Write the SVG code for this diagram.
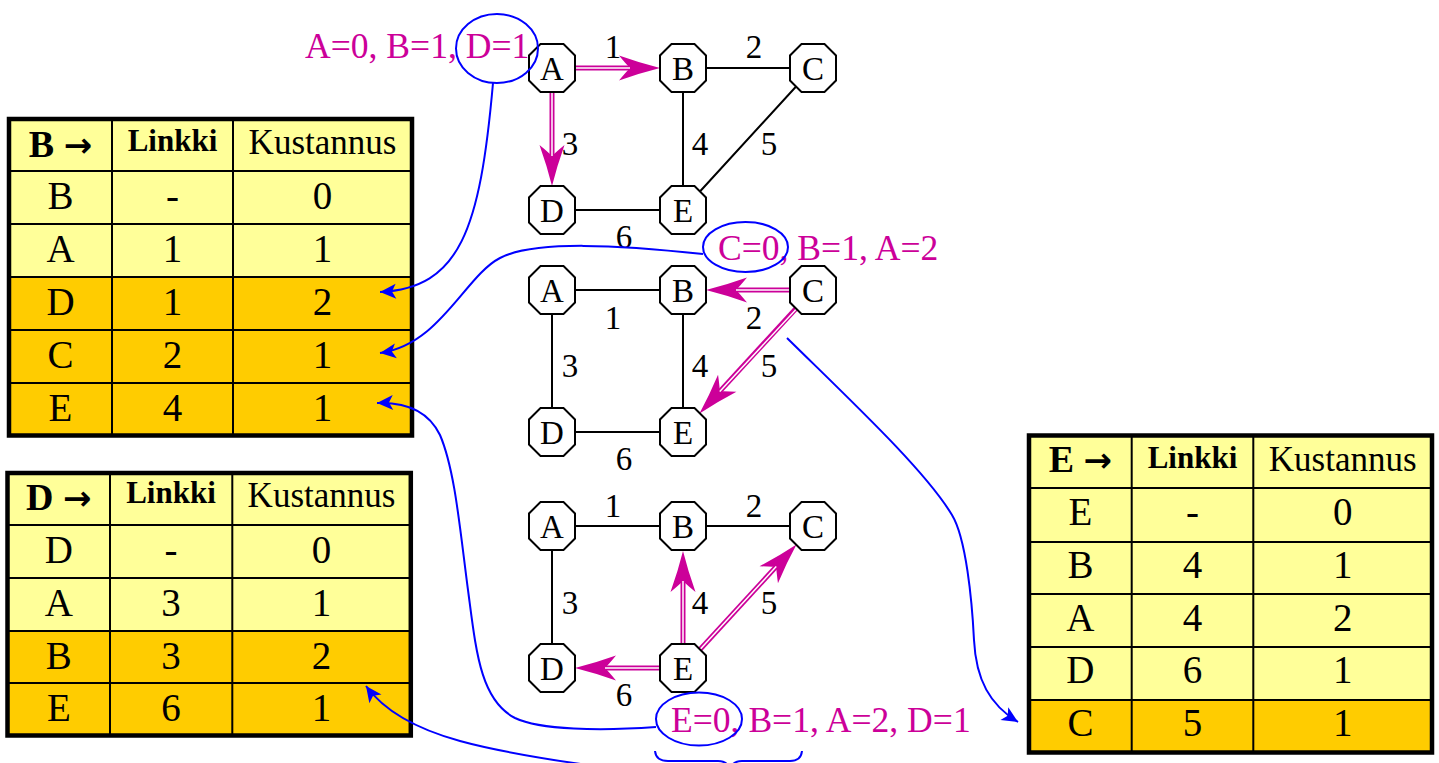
<svg xmlns="http://www.w3.org/2000/svg" xmlns:xlink="http://www.w3.org/1999/xlink" width="1439" height="763" viewBox="0 0 1439 763">
<style>
text { font-family: "Liberation Serif", "Times New Roman", serif; }
.cell { font-size: 39px; text-anchor: middle; fill: #000; }
.hk { font-size: 35px; text-anchor: middle; fill: #000; }
.hb { font-size: 31px; font-weight: bold; text-anchor: middle; fill: #000; }
.ht { font-size: 38px; font-weight: bold; text-anchor: middle; fill: #000; }
.ar { font-family: "DejaVu Sans", sans-serif; font-size: 34px; font-weight: bold; }
.lt { fill: #FFFF99; }
.dk { fill: #FFCC00; }
.grid { stroke: #000; stroke-width: 2; fill: none; }
.frame { fill: none; stroke: #000; stroke-width: 4.5; }
.edge { stroke: #000; stroke-width: 2; fill: none; }
.nl { font-size: 33px; text-anchor: middle; fill: #000; }
.el { font-size: 33px; text-anchor: middle; fill: #000; }
.mt { font-size: 35.6px; fill: #CC0099; }
.blue { fill: none; stroke: #0000FF; stroke-width: 2; }
.mg { stroke: #CC0099; stroke-width: 5; fill: none; }
.mw { stroke: #FFFFFF; stroke-width: 1.5; fill: none; }
</style>
<defs>
<polygon id="oct" points="-11.5,-24 11.5,-24 23,-12.5 23,12.5 11.5,24 -11.5,24 -23,12.5 -23,-12.5" fill="#FFFFFF" stroke="#000" stroke-width="2"/>
<marker id="mh" markerUnits="userSpaceOnUse" orient="auto" refX="0" refY="0" markerWidth="1" markerHeight="1" overflow="visible">
<path d="M30,0 Q10,-5 -11,-12.5 Q-4,-4 0,0 Q-4,4 -11,12.5 Q10,5 30,0 Z" fill="#CC0099"/>
</marker>
<marker id="bh" markerUnits="userSpaceOnUse" orient="auto" refX="0" refY="0" markerWidth="1" markerHeight="1" overflow="visible">
<path d="M0,0 L-16,-7.5 L-12,0 L-16,7.5 Z" fill="#0000FF"/>
</marker>
</defs>

<!-- Table B -->
<g id="table-B">
<rect class="lt" x="9" y="119" width="403" height="158"/>
<rect class="dk" x="9" y="277" width="403" height="159"/>
<path class="grid" d="M9,171H412M9,224H412M9,277H412M9,330H412M9,383H412M112,119V436M233,119V436"/>
<rect class="frame" x="9" y="119" width="403" height="316.5"/>
<text class="ht" x="60.5" y="157">B <tspan class="ar">→</tspan></text>
<text class="hb" x="172.5" y="151">Linkki</text>
<text class="hk" x="322.5" y="154">Kustannus</text>
<text class="cell" x="60.5" y="209">B</text><text class="cell" x="172.5" y="209">-</text><text class="cell" x="322.5" y="209">0</text>
<text class="cell" x="60.5" y="262">A</text><text class="cell" x="172.5" y="262">1</text><text class="cell" x="322.5" y="262">1</text>
<text class="cell" x="60.5" y="315">D</text><text class="cell" x="172.5" y="315">1</text><text class="cell" x="322.5" y="315">2</text>
<text class="cell" x="60.5" y="368">C</text><text class="cell" x="172.5" y="368">2</text><text class="cell" x="322.5" y="368">1</text>
<text class="cell" x="60.5" y="421">E</text><text class="cell" x="172.5" y="421">4</text><text class="cell" x="322.5" y="421">1</text>
</g>

<!-- Table D -->
<g id="table-D">
<rect class="lt" x="7.5" y="473" width="403.3" height="158"/>
<rect class="dk" x="7.5" y="631" width="403.3" height="104.5"/>
<path class="grid" d="M7.5,525H410.8M7.5,578H410.8M7.5,631H410.8M7.5,683H410.8M110,473V735.5M232.3,473V735.5"/>
<rect class="frame" x="7.5" y="473" width="403.3" height="262.5"/>
<text class="ht" x="58.8" y="510">D <tspan class="ar">→</tspan></text>
<text class="hb" x="171" y="503">Linkki</text>
<text class="hk" x="321.5" y="507">Kustannus</text>
<text class="cell" x="58.8" y="563">D</text><text class="cell" x="171" y="563">-</text><text class="cell" x="321.5" y="563">0</text>
<text class="cell" x="58.8" y="616">A</text><text class="cell" x="171" y="616">3</text><text class="cell" x="321.5" y="616">1</text>
<text class="cell" x="58.8" y="669">B</text><text class="cell" x="171" y="669">3</text><text class="cell" x="321.5" y="669">2</text>
<text class="cell" x="58.8" y="721">E</text><text class="cell" x="171" y="721">6</text><text class="cell" x="321.5" y="721">1</text>
</g>

<!-- Table E -->
<g id="table-E">
<rect class="lt" x="1029" y="435.5" width="403" height="264.5"/>
<rect class="dk" x="1029" y="700" width="403" height="52.5"/>
<path class="grid" d="M1029,488H1432M1029,542H1432M1029,594H1432M1029,647H1432M1029,700H1432M1131.7,435.5V752.5M1253.3,435.5V752.5"/>
<rect class="frame" x="1029" y="435.5" width="403" height="317"/>
<text class="ht" x="1080.4" y="472">E <tspan class="ar">→</tspan></text>
<text class="hb" x="1192.5" y="468">Linkki</text>
<text class="hk" x="1342.7" y="471">Kustannus</text>
<text class="cell" x="1080.4" y="525">E</text><text class="cell" x="1192.5" y="525">-</text><text class="cell" x="1342.7" y="525">0</text>
<text class="cell" x="1080.4" y="578">B</text><text class="cell" x="1192.5" y="578">4</text><text class="cell" x="1342.7" y="578">1</text>
<text class="cell" x="1080.4" y="631">A</text><text class="cell" x="1192.5" y="631">4</text><text class="cell" x="1342.7" y="631">2</text>
<text class="cell" x="1080.4" y="683">D</text><text class="cell" x="1192.5" y="683">6</text><text class="cell" x="1342.7" y="683">1</text>
<text class="cell" x="1080.4" y="736">C</text><text class="cell" x="1192.5" y="736">5</text><text class="cell" x="1342.7" y="736">1</text>
</g>

<!-- Graph edges and arrows -->
<g id="connectors">
<!-- top graph -->
<path class="edge" d="M683,68H813M683,68V210M813,68L683,210M552,210H683"/>
<path class="mg" d="M552,68H630" marker-end="url(#mh)"/><path class="mw" d="M560,68H630"/>
<path class="mg" d="M552,68V156" marker-end="url(#mh)"/><path class="mw" d="M552,76V156"/>
<!-- middle graph -->
<path class="edge" d="M552,290H683M552,290V432M683,290V432M552,432H683"/>
<path class="mg" d="M813,290H736" marker-end="url(#mh)"/><path class="mw" d="M805,290H736"/>
<path class="mg" d="M813,290L719.8,391.4" marker-end="url(#mh)"/><path class="mw" d="M808,296.5L719.8,391.4"/>
<!-- bottom graph -->
<path class="edge" d="M552,526H813M552,526V668"/>
<path class="mg" d="M683,668V581" marker-end="url(#mh)"/><path class="mw" d="M683,660V581"/>
<path class="mg" d="M683,668L776.2,566.6" marker-end="url(#mh)"/><path class="mw" d="M688,662.5L776.2,566.6"/>
<path class="mg" d="M683,668H605" marker-end="url(#mh)"/><path class="mw" d="M675,668H605"/>
</g>

<!-- Edge labels -->
<g id="edge-labels">
<text class="el" x="613" y="58">1</text><text class="el" x="754" y="58">2</text><text class="el" x="570" y="155">3</text><text class="el" x="700" y="155">4</text><text class="el" x="769" y="155">5</text><text class="el" x="624" y="248">6</text>
<text class="el" x="613" y="329">1</text><text class="el" x="754" y="329">2</text><text class="el" x="570" y="377">3</text><text class="el" x="700" y="377">4</text><text class="el" x="769" y="377">5</text><text class="el" x="624" y="470">6</text>
<text class="el" x="613" y="517">1</text><text class="el" x="754" y="517">2</text><text class="el" x="570" y="614">3</text><text class="el" x="700" y="614">4</text><text class="el" x="769" y="614">5</text><text class="el" x="624" y="706">6</text>
</g>

<!-- Nodes: top graph -->
<g id="n1-A"><use xlink:href="#oct" x="552" y="68"/><text class="nl" x="552" y="80">A</text></g>
<g id="n1-B"><use xlink:href="#oct" x="683" y="68"/><text class="nl" x="683" y="80">B</text></g>
<g id="n1-C"><use xlink:href="#oct" x="813" y="68"/><text class="nl" x="813" y="80">C</text></g>
<g id="n1-D"><use xlink:href="#oct" x="552" y="210"/><text class="nl" x="552" y="222">D</text></g>
<g id="n1-E"><use xlink:href="#oct" x="683" y="210"/><text class="nl" x="683" y="222">E</text></g>
<!-- Nodes: middle graph -->
<g id="n2-A"><use xlink:href="#oct" x="552" y="290"/><text class="nl" x="552" y="302">A</text></g>
<g id="n2-B"><use xlink:href="#oct" x="683" y="290"/><text class="nl" x="683" y="302">B</text></g>
<g id="n2-C"><use xlink:href="#oct" x="813" y="290"/><text class="nl" x="813" y="302">C</text></g>
<g id="n2-D"><use xlink:href="#oct" x="552" y="432"/><text class="nl" x="552" y="444">D</text></g>
<g id="n2-E"><use xlink:href="#oct" x="683" y="432"/><text class="nl" x="683" y="444">E</text></g>
<!-- Nodes: bottom graph -->
<g id="n3-A"><use xlink:href="#oct" x="552" y="526"/><text class="nl" x="552" y="538">A</text></g>
<g id="n3-B"><use xlink:href="#oct" x="683" y="526"/><text class="nl" x="683" y="538">B</text></g>
<g id="n3-C"><use xlink:href="#oct" x="813" y="526"/><text class="nl" x="813" y="538">C</text></g>
<g id="n3-D"><use xlink:href="#oct" x="552" y="668"/><text class="nl" x="552" y="680">D</text></g>
<g id="n3-E"><use xlink:href="#oct" x="683" y="668"/><text class="nl" x="683" y="680">E</text></g>

<!-- Magenta vectors -->
<g id="vectors">
<text class="mt" x="305" y="58">A=0, B=1, D=1</text>
<text class="mt" x="718" y="260">C=0, B=1, A=2</text>
<text class="mt" x="671" y="732">E=0, B=1, A=2, D=1</text>
</g>

<!-- Blue annotations -->
<g id="annotations">
<ellipse class="blue" cx="497" cy="48.5" rx="41" ry="34.5"/>
<ellipse class="blue" cx="745.5" cy="247" rx="42.5" ry="25"/>
<ellipse class="blue" cx="699" cy="719" rx="43" ry="26.5"/>
<path class="blue" d="M493,83 C480,230 460,288 380,292" marker-end="url(#bh)"/>
<path class="blue" d="M703,254 C620,245 535,240 500,258 C465,276 440,345 380,353" marker-end="url(#bh)"/>
<path class="blue" d="M656,727 C600,731 540,730 515,718 C480,700 476,650 468,590 C460,530 455,470 440,435 C428,410 405,402 377,403" marker-end="url(#bh)"/>
<path class="blue" d="M787,338 C850,400 925,470 952,515 C966,538 972,600 974,640 C976,680 990,705 1018,722" marker-end="url(#bh)"/>
<path class="blue" d="M640,772 C560,762 500,752 460,741 C420,730 385,712 366,686" marker-end="url(#bh)"/>
<path class="blue" d="M655,751 Q656,761 668,761 L718,761 Q728,761 730,770 Q732,761 742,761 L790,761 Q801,761 802,751"/>
</g>
</svg>
